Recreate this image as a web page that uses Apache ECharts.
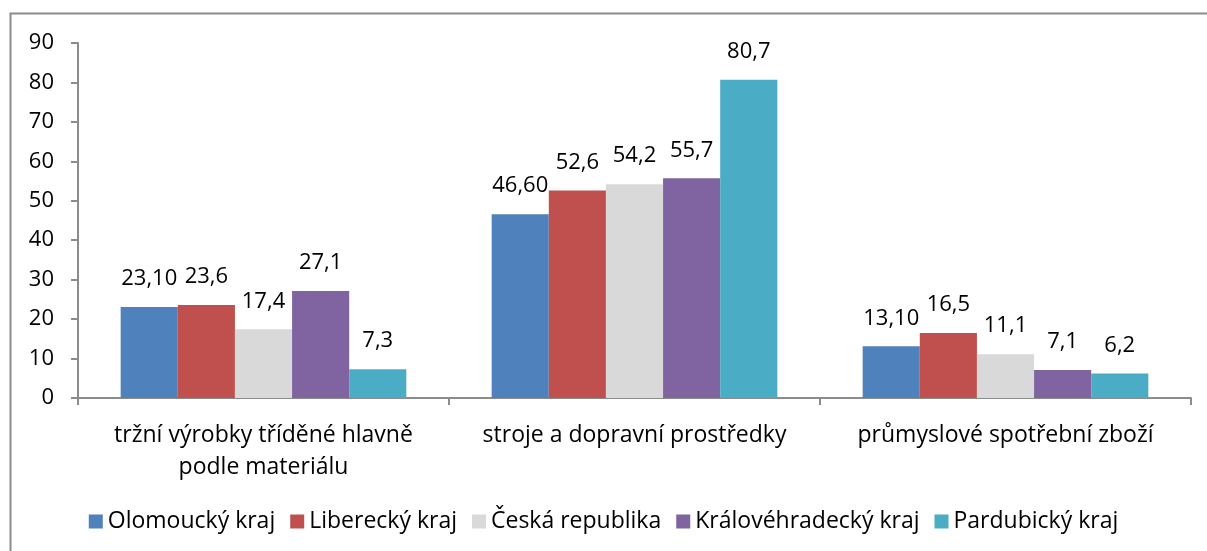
<!DOCTYPE html>
<html><head><meta charset="utf-8">
<script src="https://cdn.jsdelivr.net/npm/echarts@6/dist/echarts.min.js"></script>
<style>html,body{margin:0;padding:0;background:#fff}#c{width:1207px;height:551px}</style>
</head><body><div id="c"></div>
<script>
var categories = ['tržní výrobky tříděné hlavně\npodle materiálu', 'stroje a dopravní prostředky', 'průmyslové spotřební zboží'];
var seriesNames = ['Olomoucký kraj', 'Liberecký kraj', 'Česká republika', 'Královéhradecký kraj', 'Pardubický kraj'];
var olomoucky = [23.1, 46.6, 13.1];
var liberecky = [23.6, 52.6, 16.5];
var ceskaRepublika = [17.4, 54.2, 11.1];
var kralovehradecky = [27.1, 55.7, 7.1];
var pardubicky = [7.3, 80.7, 6.2];
var olomouckyLabels = ['23,10', '46,60', '13,10'];
var colors = ['#4F81BD', '#C0504D', '#D9D9D9', '#8064A2', '#4BACC6'];
var yTicks = [0, 90, 10];

var values = [olomoucky, liberecky, ceskaRepublika, kralovehradecky, pardubicky];
var font = '"Open Sans", "Noto Sans", sans-serif';
var chart = echarts.init(document.getElementById('c'));
chart.setOption({
  animation: false,
  textStyle: { fontFamily: font },
  graphic: [{ type: 'rect', shape: { x: 10.5, y: 13.5, width: 1230, height: 560 }, style: { fill: 'none', stroke: '#8c8c8c', lineWidth: 2 } }],
  legend: {
    bottom: 13, left: 'center', itemWidth: 14, itemHeight: 14, itemGap: 15,
    icon: 'rect',
    textStyle: { fontSize: 23, color: '#000', fontFamily: font }
  },
  grid: { left: 78, right: 16, top: 43, bottom: 153 },
  xAxis: {
    type: 'category', data: categories,
    axisLine: { lineStyle: { color: '#8c8c8c', width: 2 } },
    axisTick: { show: true, length: 7, lineStyle: { color: '#8c8c8c', width: 2 } },
    axisLabel: { fontSize: 23, color: '#000', lineHeight: 32, margin: 21, interval: 0 }
  },
  yAxis: {
    type: 'value', min: yTicks[0], max: yTicks[1], interval: yTicks[2],
    axisLine: { show: true, lineStyle: { color: '#8c8c8c', width: 2 } },
    axisTick: { show: true, length: 7, lineStyle: { color: '#8c8c8c', width: 2 } },
    splitLine: { show: false },
    axisLabel: { fontSize: 22, color: '#000', margin: 24 }
  },
  series: seriesNames.map(function (n, i) {
    return {
      name: n, type: 'bar', data: values[i], barGap: '0%', barCategoryGap: '23%',
      itemStyle: { color: colors[i] },
      label: {
        show: true, position: 'top', distance: 17, fontSize: 22, color: '#000',
        formatter: function (p) {
          if (i === 0) return olomouckyLabels[p.dataIndex];
          return String(p.value).replace('.', ',');
        }
      }
    };
  })
});
</script></body></html>
